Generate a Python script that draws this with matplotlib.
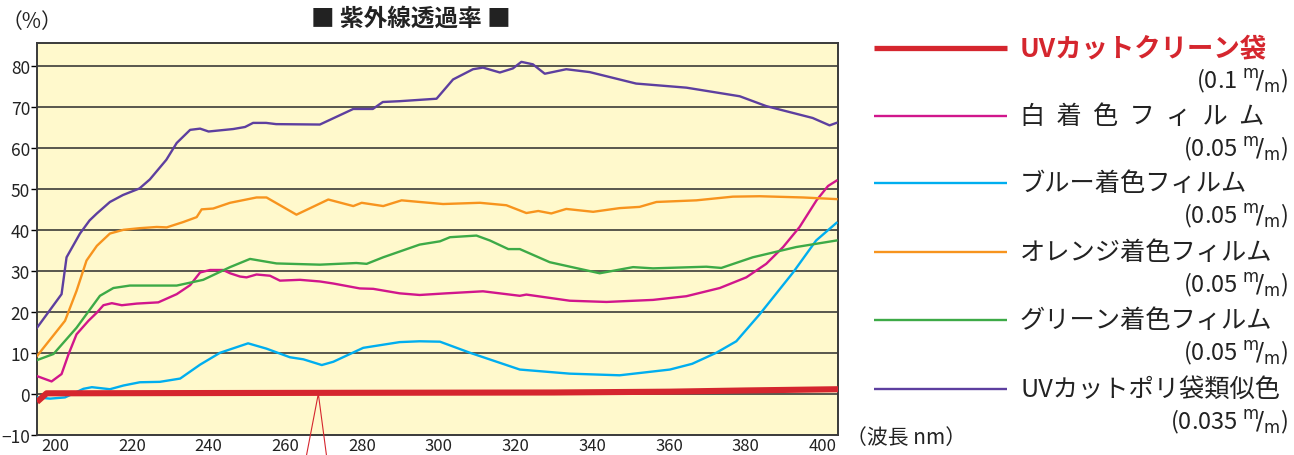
import matplotlib
matplotlib.use("Agg")
import matplotlib.pyplot as plt
from matplotlib.lines import Line2D

plt.rcParams['font.family'] = ['Noto Sans CJK JP', 'DejaVu Sans']

# wavelength (nm) / transmittance (%)
clean_x = [195.3, 197.8, 260, 330, 360, 380, 404]
clean_y = [-2.0, 0.1, 0.2, 0.3, 0.5, 0.8, 1.1]

white_x = [195.3, 199.1, 201.7, 203.5, 205.6, 208.7, 210.9, 212.6, 214.8, 217.4, 221.3, 226.9,
           231.7, 235.2, 237.8, 240.4, 243.8, 245.6, 248.2, 249.9, 252.5, 256, 258.6, 263.8,
           269, 272.5, 279.4, 282.9, 289.8, 295, 301.9, 311.5, 321.1, 322.8, 334.1, 343.7,
           355.8, 364.5, 373.2, 380.1, 385.3, 389.7, 394, 398.4, 401.4, 403.6]
white_y = [4.3, 3.0, 4.8, 9.6, 14.5, 17.8, 19.8, 21.6, 22.1, 21.6, 22.0, 22.3,
           24.3, 26.5, 29.6, 30.2, 30.2, 29.4, 28.6, 28.4, 29.1, 28.8, 27.6, 27.8,
           27.4, 26.9, 25.7, 25.6, 24.5, 24.1, 24.5, 25.0, 23.9, 24.2, 22.7, 22.4,
           22.9, 23.8, 25.8, 28.4, 31.7, 35.8, 40.7, 47.2, 50.7, 52.0]

blue_x = [195.5, 198.7, 202.6, 207.4, 209.6, 214.3, 217.8, 222.1, 227.3, 232.6, 237.8, 243,
          250.3, 255.1, 261.2, 264.7, 269.5, 272.5, 280.3, 289.8, 295, 300.3, 308.1, 321.1,
          334.1, 347.1, 360.2, 366, 372.3, 377.5, 383.6, 392.3, 398.3, 403.6]
blue_y = [-0.9, -1.2, -0.9, 1.2, 1.6, 1.1, 2.0, 2.8, 2.9, 3.7, 7.1, 10.0,
          12.3, 11.0, 8.9, 8.4, 7.0, 7.8, 11.2, 12.6, 12.8, 12.7, 10.0, 5.9,
          4.9, 4.5, 5.9, 7.3, 10.0, 12.8, 19.4, 29.6, 37.4, 41.7]

orange_x = [195.3, 202.6, 205.6, 208.2, 210.9, 214.3, 217.8, 222, 226.5, 229.1, 233.4, 236.9,
            238.2, 241.2, 245.6, 252.5, 255.1, 262.9, 271.2, 277.7, 279.9, 285.5, 290.3, 295,
            301.1, 310.7, 317.6, 322.8, 325.9, 329.3, 333.2, 340.2, 347.1, 352.3, 356.7, 367.1,
            376.6, 383.6, 394.9, 403.6]
orange_y = [9.2, 17.8, 25.1, 32.5, 36.1, 39.1, 40.0, 40.4, 40.7, 40.6, 41.9, 43.1,
            45.0, 45.2, 46.6, 47.9, 47.9, 43.7, 47.4, 45.8, 46.6, 45.8, 47.2, 46.8,
            46.3, 46.6, 46.0, 44.1, 44.6, 44.0, 45.1, 44.4, 45.3, 45.6, 46.8, 47.2,
            48.1, 48.2, 47.9, 47.5]

green_x = [195.3, 199.6, 205.6, 211.7, 215.2, 219.5, 231.7, 238.6, 245.6, 250.8, 257.7, 269,
           278.5, 281.2, 285.5, 295, 300.3, 302.9, 309.8, 313.3, 318.1, 321.1, 328.9, 341.9,
           350.6, 355.8, 369.7, 373.6, 381.8, 393.1, 403.6]
green_y = [8.2, 9.7, 16.1, 23.9, 25.8, 26.4, 26.4, 27.8, 30.9, 32.9, 31.8, 31.5,
           31.9, 31.7, 33.3, 36.4, 37.2, 38.2, 38.6, 37.4, 35.3, 35.3, 32.1, 29.4,
           30.9, 30.6, 31.0, 30.7, 33.3, 35.8, 37.4]

purple_x = [195.3, 201.7, 203, 206.5, 209, 210.9, 214.3, 217.7, 222, 224.7, 229, 231.7,
            235.2, 237.8, 240, 246.4, 249.5, 251.6, 255, 257.6, 269, 277.7, 282.8, 285.4,
            289.8, 299.4, 303.7, 308.9, 311.5, 315.9, 319.3, 321.5, 324.5, 327.6, 333.2, 339.3,
            351.4, 364.5, 378.4, 385.3, 397.4, 401.8, 403.6]
purple_y = [16.1, 24.3, 33.3, 39.1, 42.3, 44.0, 46.8, 48.5, 50.1, 52.3, 57.1, 61.2,
            64.4, 64.7, 64.0, 64.6, 65.1, 66.1, 66.1, 65.8, 65.7, 69.5, 69.5, 71.2,
            71.4, 72.0, 76.7, 79.2, 79.6, 78.4, 79.4, 81.0, 80.4, 78.1, 79.2, 78.5,
            75.7, 74.7, 72.6, 70.2, 67.3, 65.5, 66.1]

# pointer under the red line
pointer_x = [265.4, 268.6, 270.8]
pointer_y = [-15.6, 0.0, -15.6]

series_names = ["UVカットクリーン袋", "白  着  色  フ  ィ  ル  ム", "ブルー着色フィルム",
                "オレンジ着色フィルム", "グリーン着色フィルム", "UVカットポリ袋類似色"]
thickness = ["0.1", "0.05", "0.05", "0.05", "0.05", "0.035"]
colors = ["#d5262e", "#d1168c", "#00aeef", "#f7941e", "#3daa47", "#5d3f9f"]

yticks = [-10, 0, 10, 20, 30, 40, 50, 60, 70, 80]
xticks = [200, 220, 240, 260, 280, 300, 320, 340, 360, 380, 400]

W, H = 1294, 456
fig = plt.figure(figsize=(W / 100, H / 100), dpi=100)
ax = fig.add_axes([37 / W, 1 - 435.7 / H, (838 - 37) / W, (435.7 - 44) / H])
ax.set_facecolor("#fff9cc")

for yv in yticks[1:]:
    ax.axhline(yv, color="#2b2b2b", lw=1.1, zorder=1)

data = [(white_x, white_y), (blue_x, blue_y), (orange_x, orange_y),
        (green_x, green_y), (purple_x, purple_y)]
for (xs, ys), c in zip(data, colors[1:]):
    ax.plot(xs, ys, color=c, lw=1.7, zorder=3)
ax.plot(clean_x, clean_y, color=colors[0], lw=4.4, solid_capstyle="butt", zorder=4)
ax.plot(pointer_x, pointer_y, color=colors[0], lw=0.8, clip_on=False, zorder=4)

ax.set_xlim(195.3, 404)
ax.set_ylim(-10, 85.6)
ax.set_xticks(xticks)
ax.set_yticks(yticks)
ax.tick_params(axis="x", length=0, pad=1.5, labelsize=12, labelcolor="#222222")
ax.tick_params(axis="y", length=4, width=1, pad=1, labelsize=12.5, labelcolor="#222222")
for s in ax.spines.values():
    s.set_color("#3a3a3a")
    s.set_linewidth(1.4)

def px(x, y):
    return x / W, 1 - y / H

fig.text(*px(2, 22), "（%）", fontsize=15, ha="left", va="center", color="#222222")
fig.text(*px(411, 19), "■ 紫外線透過率 ■", fontsize=17, fontweight="bold",
         ha="center", va="center", color="#222222")
fig.text(*px(846, 438), "（波長 nm）", fontsize=15, ha="left", va="center", color="#222222")

# legend drawn by hand
row_y = [49, 117, 184, 253, 321, 390]
for i, (name, t, c) in enumerate(zip(series_names, thickness, colors)):
    y = row_y[i]
    lw = 3.8 if i == 0 else 1.7
    fig.add_artist(Line2D([874 / W, 1007 / W], [1 - y / H, 1 - y / H], color=c, lw=lw,
                          solid_capstyle="butt", transform=fig.transFigure))
    if i == 0:
        fig.text(*px(1020, y), name, fontsize=19, fontweight="bold", color=c,
                 ha="left", va="center")
    else:
        fig.text(*px(1020, y), name, fontsize=18.2, color="#222222", ha="left", va="center")
    fig.text(*px(1288, y + 32), "(" + t + r" $^{\mathrm{m}}\!/_{\mathrm{m}}$)",
             fontsize=17, color="#222222", ha="right", va="center")

fig.savefig("out.png", dpi=100)
